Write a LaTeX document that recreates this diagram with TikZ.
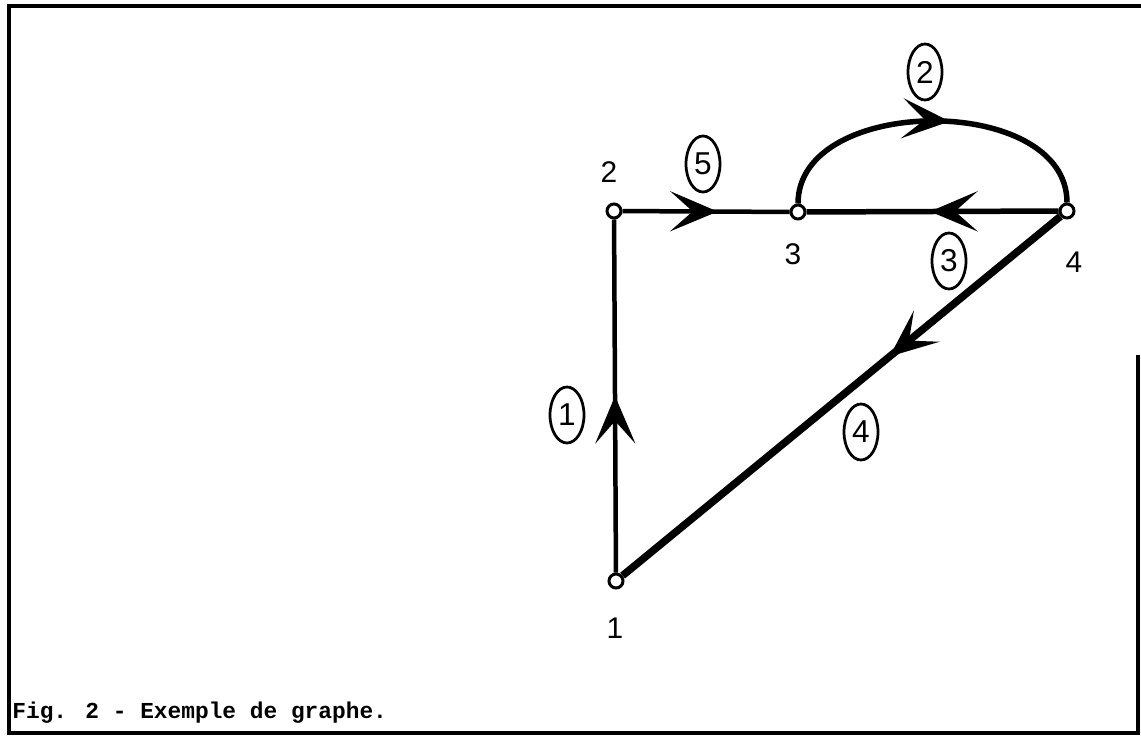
\documentclass[tikz,border=0pt]{standalone}
\usepackage{fontspec}
\setmainfont{Liberation Sans}
\newfontfamily\capfont{Liberation Mono}
\usetikzlibrary{arrows.meta,shapes.geometric,decorations.markings}

\tikzset{
  vertex/.style={draw, circle, fill=white, inner sep=0pt, minimum size=0.28cm, line width=0.06cm},
  numlabel/.style={font=\fontsize{17}{20}\selectfont, inner sep=0pt},
  circled/.style={draw, ellipse, inner sep=0pt, minimum width=0.68cm, minimum height=1.12cm,
    line width=0.055cm, font=\fontsize{18}{20}\selectfont},
  midarrow/.style={postaction={decorate}, decoration={markings,
    mark=at position #1 with {\arrow{Stealth[length=0.95cm, width=0.8cm, inset=0.45cm]}}}},
}

\begin{document}
\begin{tikzpicture}[x=0.02cm, y=-0.02cm]
\useasboundingbox (0,0) rectangle (1141,740);

% frame
\draw[line width=0.07cm] (1138,355) -- (1138,733) -- (9,733) -- (9,6) -- (1141,6);

% vertices
\node[vertex] (n1) at (616,581) {};
\node[vertex] (n2) at (614,211) {};
\node[vertex] (n3) at (798,212) {};
\node[vertex] (n4) at (1067,211) {};

\node[numlabel] (l1) at (615,628) {1};
\node[numlabel] (l2) at (609,172) {2};
\node[numlabel] (l3) at (793,254) {3};
\node[numlabel] (l4) at (1074,262) {4};

% edges
\draw[line width=0.09cm, midarrow=0.5] (n1) -- (n2);
\draw[line width=0.09cm, midarrow=0.57] (n2) -- (n3);
\draw[line width=0.11cm, midarrow=0.51] (n4) -- (n3);
\draw[line width=0.11cm, midarrow=0.55] (n3) .. controls +(0,-118) and +(0,-118) .. (n4);
\draw[line width=0.15cm, midarrow=0.39] (n4) -- (n1);

% edge numbers
\node[circled] (c1) at (567,415) {1};
\node[circled] (c2) at (925,72) {2};
\node[circled] (c3) at (949,261) {3};
\node[circled] (c4) at (861,432) {4};
\node[circled] (c5) at (703,164) {5};

\node[anchor=base west, font=\capfont\bfseries\fontsize{13}{15}\selectfont, inner sep=0pt] (cap) at (12,718)
  {Fig. 2 - Exemple de graphe.};
\end{tikzpicture}
\end{document}
